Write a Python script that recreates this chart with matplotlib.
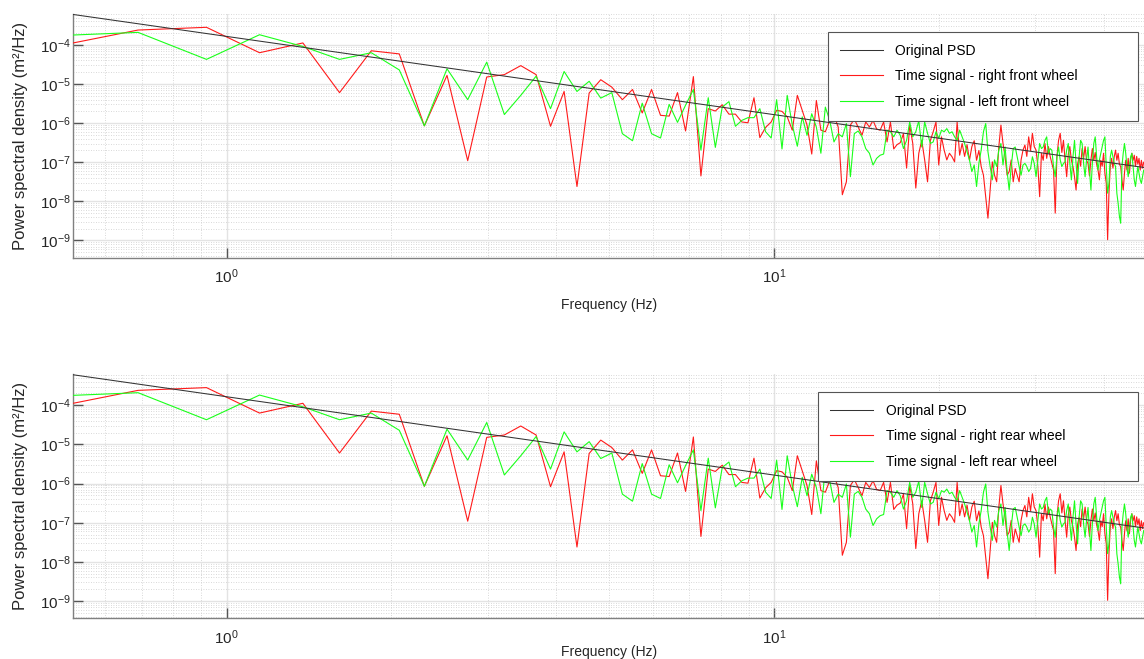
import numpy as np
import matplotlib
matplotlib.use("Agg")
import matplotlib.pyplot as plt
from matplotlib.ticker import LogLocator, NullFormatter, FixedLocator

plt.rcParams['font.family'] = ['Liberation Sans', 'DejaVu Sans']
plt.rcParams['mathtext.fontset'] = 'custom'
plt.rcParams['mathtext.rm'] = 'Liberation Sans'
plt.rcParams['mathtext.it'] = 'Liberation Sans'
plt.rcParams['mathtext.bf'] = 'Liberation Sans:bold'

# frequency resolution of the estimated spectra (Hz), first bin index shown
freq_step = 0.2298
first_bin = 2

# original (target) PSD, straight line on log-log
orig_freq = [0.5, 50.0]
orig_psd = [6.6e-4, 6.6e-8]

# labelled ticks
x_ticks = [1, 10]
y_ticks = [1e-9, 1e-8, 1e-7, 1e-6, 1e-5, 1e-4]

# log10 of PSD estimated from the time signals (same signals for front and rear)
right_log = [
    -4.11, -3.62, -3.55, -4.20, -3.95, -5.22, -4.15, -4.23, -6.07, -4.78,
    -6.96, -4.82, -4.76, -4.53, -4.76, -6.08, -5.19, -7.62, -5.23, -4.89,
    -5.08, -5.40, -5.14, -5.74, -5.14, -5.80, -5.82, -5.22, -6.20, -4.81,
    -7.35, -5.63, -5.69, -5.53, -5.77, -5.77, -5.97, -5.99, -5.35, -6.37,
    -6.11, -5.97, -5.67, -5.70, -5.84, -6.18, -5.29, -5.67, -6.05, -6.79,
    -5.42, -6.18, -6.22, -5.93, -5.80, -6.10, -7.83, -7.50, -6.05, -5.90,
    -6.10, -6.31, -5.97, -6.10, -5.93, -6.15, -6.18, -5.97, -6.48, -5.97,
    -6.66, -6.55, -6.50, -6.27,
    -7.15, -6.05, -6.52, -7.66, -6.77, -6.44, -6.94, -7.50, -6.44, -6.22,
    -5.97, -7.07, -6.35, -6.69, -6.94, -6.77, -6.86, -6.99, -5.97, -6.82,
    -6.52, -6.85, -6.55, -6.95, -6.60, -6.45, -6.95, -6.70, -7.11, -7.33,
    -7.88, -8.43, -7.71, -6.99, -7.33, -7.50, -6.61, -6.05, -6.52, -6.86,
    -7.33, -7.24, -6.94, -7.50, -7.16, -7.33, -7.50, -6.94, -6.69,
    -6.56, -6.85, -6.35, -6.70, -6.26, -6.60, -6.69, -7.11, -7.88, -6.77,
    -6.95, -6.52, -6.90, -6.60, -6.85, -7.03, -7.20, -8.30, -6.86, -6.44,
    -6.26, -6.75, -6.44, -6.94, -7.37, -6.80, -6.60, -6.95, -7.11, -7.37,
    -7.71, -7.05, -6.86, -7.10, -6.65, -6.90, -6.60, -6.95, -7.03, -7.35,
    -6.94, -6.65, -6.95, -6.75, -7.05, -7.20, -7.45, -6.95, -7.10, -6.77,
    -7.28, -7.54, -8.98, -7.79, -7.11, -6.90, -7.15, -6.86, -6.69, -6.95,
    -6.77, -7.05, -7.11, -7.45, -7.71, -7.28, -6.95, -7.20, -6.90, -7.28,
    -6.94, -6.77, -6.95, -6.82, -7.10, -6.85, -7.05, -6.90, -7.20, -6.95,
    -7.15, -7.00,
]
left_log = [
    -3.78, -3.68, -4.37, -3.74, -4.04, -4.37, -4.20, -4.64, -6.07, -4.61,
    -5.40, -4.44, -5.78, -5.29, -4.80, -5.63, -4.68, -5.19, -4.93, -5.36,
    -5.22, -6.27, -6.45, -5.49, -6.27, -6.38, -5.52, -5.98, -5.54, -5.14,
    -6.69, -5.35, -6.62, -5.59, -5.45, -6.08, -5.93, -5.86, -5.86, -5.63,
    -6.22, -6.38, -5.40, -6.66, -5.29, -6.05, -6.59, -5.84, -6.31, -5.76,
    -6.10, -6.77, -5.59, -5.93, -6.48, -6.27, -6.35, -6.01, -7.37, -6.27,
    -6.20, -6.35, -6.65, -6.77, -7.07, -6.90, -6.82, -6.79, -6.18, -6.22,
    -6.35, -6.18, -6.31, -6.65,
    -6.44, -5.97, -6.35, -6.22, -5.94, -6.61, -5.97, -6.26, -6.52, -6.48,
    -6.22, -6.39, -6.18, -6.22, -6.14, -6.26, -6.22, -6.35, -6.44, -6.18,
    -6.35, -6.52, -6.73, -6.94, -7.24, -7.07, -7.62, -7.03, -6.69, -6.22,
    -6.01, -6.73, -7.11, -7.45, -6.94, -7.11, -6.69, -6.52, -7.07, -6.61,
    -7.24, -7.71, -7.11, -6.65, -6.61, -6.86, -7.11, -7.33, -7.07,
    -7.03, -7.11, -7.24, -7.16, -6.86, -7.03, -7.37, -6.94, -6.52, -6.65,
    -6.61, -6.44, -6.35, -6.77, -6.65, -6.69, -7.11, -7.37, -6.86, -6.61,
    -6.94, -7.11, -7.03, -6.99, -6.69, -6.52, -7.03, -7.45, -6.86, -6.44,
    -7.03, -7.54, -6.86, -6.44, -6.52, -7.03, -7.37, -6.94, -6.61, -7.20,
    -7.71, -7.03, -6.52, -6.35, -6.86, -7.20, -6.94, -6.77, -6.61, -6.44,
    -6.35, -7.11, -7.79, -7.54, -6.86, -6.69, -6.86, -7.03, -7.11, -7.79,
    -8.05, -8.38, -8.56, -7.11, -6.77, -6.52, -6.77, -7.11, -7.37, -7.11,
    -6.86, -6.77, -7.11, -7.45, -7.62, -7.37, -7.11, -7.28, -7.45, -7.54,
    -7.37, -7.20,
]

panels = [
    ("Time signal - right front wheel", "Time signal - left front wheel"),
    ("Time signal - right rear wheel", "Time signal - left rear wheel"),
]

freq = freq_step * np.arange(first_bin, first_bin + len(right_log))
right_psd = 10.0 ** np.array(right_log)
left_psd = 10.0 ** np.array(left_log)

W, H = 1144, 659
fig = plt.figure(figsize=(W / 100, H / 100), dpi=100)

# axes boxes in pixels: (left, top, bottom)
boxes = [(73.3, 14.0, 257.7), (73.3, 374.3, 618.3)]
legend_boxes = [(827.7, 31.7, 1138.3), (818.3, 391.7, 1138.3)]
xlabel_y = [-0.165, -0.109]

text_col = '#262626'
for i, (lab_r, lab_l) in enumerate(panels):
    l, t, b = boxes[i]
    ax = fig.add_axes([l / W, 1 - b / H, 1 - l / W, (b - t) / H])
    ax.set_xscale('log')
    ax.set_yscale('log')

    ax.plot(freq, right_psd, color='#ff1a1a', lw=0.8, label=lab_r, zorder=3)
    ax.plot(freq, left_psd, color='#1aff1a', lw=0.8, label=lab_l, zorder=4)
    ax.plot(orig_freq, orig_psd, color='#333333', lw=0.75, label='Original PSD', zorder=5)

    ax.set_xlim(0.525, 47.4)
    ax.set_ylim(10 ** -9.44, 10 ** -3.21)

    ax.xaxis.set_major_locator(FixedLocator(x_ticks))
    ax.yaxis.set_major_locator(FixedLocator(y_ticks))
    ax.xaxis.set_minor_locator(LogLocator(base=10, subs=np.arange(2, 10), numticks=20))
    ax.yaxis.set_minor_locator(LogLocator(base=10, subs=np.arange(2, 10), numticks=20))
    ax.yaxis.set_minor_formatter(NullFormatter())
    ax.xaxis.set_minor_formatter(NullFormatter())

    ax.grid(True, which='major', color='#e3e3e3', lw=1.0, ls='-')
    ax.grid(True, which='minor', color='#cccccc', lw=0.6, ls=(0, (1, 2)))
    ax.set_axisbelow(True)

    for side in ['top', 'right']:
        ax.spines[side].set_visible(False)
    for side in ['left', 'bottom']:
        ax.spines[side].set_color('#808080')
        ax.spines[side].set_linewidth(1.0)

    ax.tick_params(which='major', direction='in', length=7, width=1.0,
                   color='#555555', labelsize=11, labelcolor=text_col)
    ax.tick_params(axis='y', which='major', pad=2)
    ax.tick_params(axis='x', which='major', pad=7)
    ax.tick_params(which='minor', length=0)

    ax.set_xlabel('Frequency (Hz)', fontsize=10, color=text_col)
    ax.xaxis.set_label_coords(0.5, xlabel_y[i])
    ax.set_ylabel('Power spectral density (m²/Hz)', fontsize=12, color=text_col)
    ax.yaxis.set_label_coords(-0.0423, 0.5)

    handles, labels = ax.get_legend_handles_labels()
    order = [2, 0, 1]
    lx0, ly1, lx1 = legend_boxes[i]
    leg = ax.legend([handles[j] for j in order], [labels[j] for j in order],
                    loc='upper left', mode='expand',
                    bbox_to_anchor=(lx0 / W, 0, (lx1 - lx0) / W, 1 - ly1 / H),
                    bbox_transform=fig.transFigure, borderaxespad=0,
                    fontsize=10, frameon=True, fancybox=False, framealpha=1,
                    edgecolor='#555555', handlelength=3.1, handletextpad=0.9,
                    borderpad=0.85, labelspacing=0.85)
    leg.get_frame().set_linewidth(0.8)
    leg.set_zorder(10)

fig.savefig('out.png', dpi=100)
